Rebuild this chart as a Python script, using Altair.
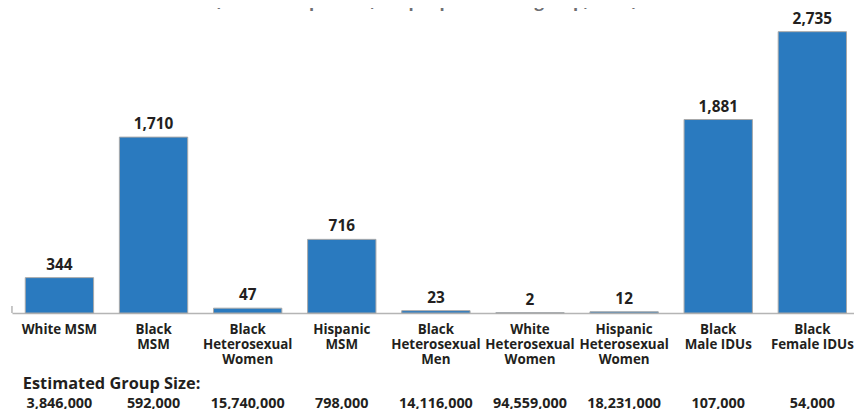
import altair as alt
import pandas as pd

categories = [
    "White MSM",
    "Black\nMSM",
    "Black\nHeterosexual\nWomen",
    "Hispanic\nMSM",
    "Black\nHeterosexual\nMen",
    "White\nHeterosexual\nWomen",
    "Hispanic\nHeterosexual\nWomen",
    "Black\nMale IDUs",
    "Black\nFemale IDUs",
]
rates = [344, 1710, 47, 716, 23, 2, 12, 1881, 2735]
rate_labels = ["344", "1,710", "47", "716", "23", "2", "12", "1,881", "2,735"]
group_sizes = ["3,846,000", "592,000", "15,740,000", "798,000", "14,116,000",
               "94,559,000", "18,231,000", "107,000", "54,000"]
title_text = "(Infections per 100,000 people in each group, 2006)"
group_title = "Estimated Group Size:"

df = pd.DataFrame({"cat": categories, "rate": rates, "label": rate_labels, "size": group_sizes})

FONT = "Open Sans"
W, H = 850, 284

xenc = alt.X("cat:N", sort=categories,
             scale=alt.Scale(paddingInner=0.274, paddingOuter=0.1105, align=0.64),
             axis=alt.Axis(title=None, labelAngle=0, ticks=False, domainColor="#b5b5b5",
                           domainWidth=1.5, labelFont=FONT, labelFontSize=13.5,
                           labelFontWeight="bold", labelColor="#231f20",
                           labelLineHeight=15, labelPadding=10, labelLimit=0,
                           labelExpr="split(datum.value, '\\n')"))
yenc = alt.Y("rate:Q", scale=alt.Scale(domain=[0, 2735], nice=False, zero=True), axis=None)

base = alt.Chart(df)

bars = base.mark_bar(color="#2a7abf", stroke="#a8a8a8", strokeWidth=1).encode(x=xenc, y=yenc)

vals = base.mark_text(font=FONT, fontSize=15.5, fontWeight="bold", color="#231f20",
                      baseline="bottom", dy=-5).encode(
    x=alt.X("cat:N", sort=categories), y="rate:Q", text="label:N")

sizes = base.mark_text(font=FONT, fontSize=14.5, fontWeight="bold", color="#231f20",
                       baseline="middle").encode(
    x=alt.X("cat:N", sort=categories), y=alt.value(376), text="size:N")

gtitle = alt.Chart(pd.DataFrame({"t": [group_title]})).mark_text(
    font=FONT, fontSize=16.5, fontWeight="bold", color="#231f20", align="left",
    baseline="middle").encode(x=alt.value(11), y=alt.value(356), text="t:N")

ttl = alt.Chart(pd.DataFrame({"t": [title_text]})).mark_text(
    font=FONT, fontSize=17, fontWeight="bold", color="#6d6e71", align="center",
    baseline="alphabetic").encode(x=alt.value(418), y=alt.value(-25), text="t:N")

stub = alt.Chart(pd.DataFrame({"a": [0]})).mark_rule(color="#b5b5b5", strokeWidth=1.5).encode(
    x=alt.value(0), y=alt.value(H - 7), y2=alt.value(H))

chart = alt.layer(bars, vals, sizes, gtitle, ttl, stub).properties(
    width=W, height=H,
    autosize=alt.AutoSizeParams(type="none"),
    padding={"left": 4, "top": 22, "right": 0, "bottom": 95},
).configure_view(stroke=None)

chart.save("out.html", embed_options={"renderer": "svg", "actions": False})
